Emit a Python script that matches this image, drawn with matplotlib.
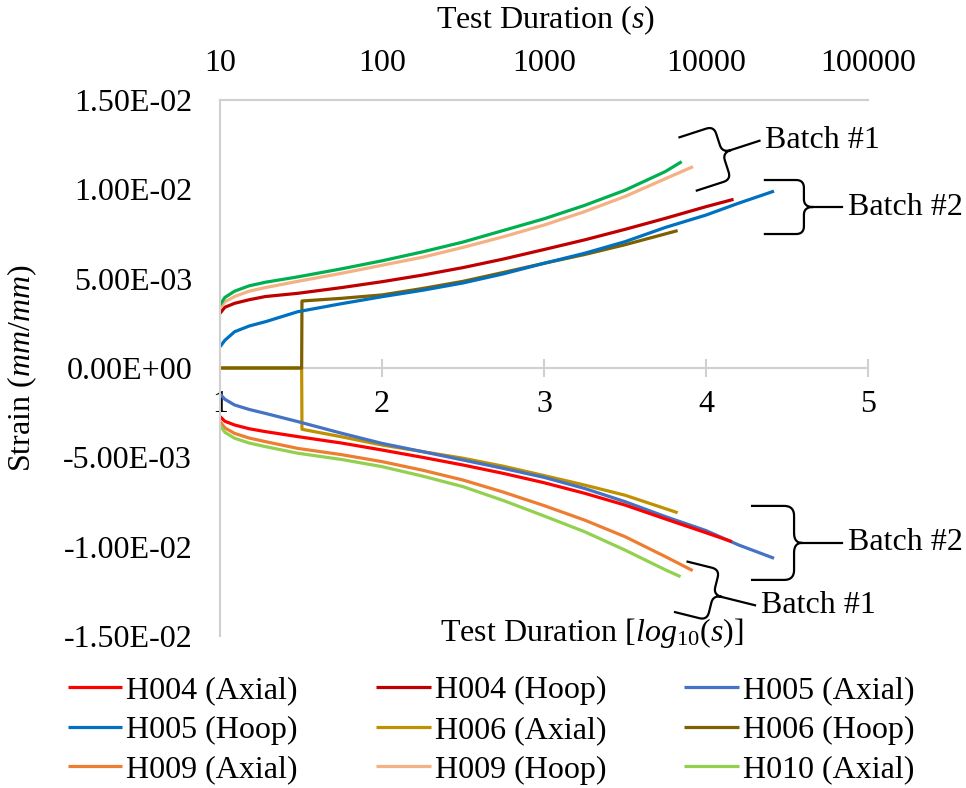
import numpy as np
import matplotlib
matplotlib.use("Agg")
import matplotlib.pyplot as plt

plt.rcParams['font.family'] = ['Liberation Serif', 'DejaVu Serif']
plt.rcParams['mathtext.fontset'] = 'custom'
plt.rcParams['mathtext.rm'] = 'Liberation Serif'
plt.rcParams['mathtext.it'] = 'Liberation Serif:italic'

# x = log10(test duration in s), y = strain in 1e-3 mm/mm
x_std = [1.0, 1.03, 1.09, 1.18, 1.28, 1.48, 1.75, 2.0, 2.25, 2.5, 2.75, 3.0, 3.25, 3.5, 3.75]

# hoop (positive)
h010_hoop_x = x_std + [3.85]
h010_hoop_y = [3.53, 3.95, 4.3, 4.6, 4.8, 5.1, 5.55, 6.0, 6.5, 7.05, 7.7, 8.35, 9.1, 9.95, 11.0, 11.55]
h009_hoop_x = x_std + [3.92]
h009_hoop_y = [3.35, 3.7, 4.0, 4.3, 4.5, 4.85, 5.3, 5.75, 6.2, 6.75, 7.35, 8.0, 8.75, 9.6, 10.6, 11.27]
h004_hoop_x = x_std + [4.0, 4.17]
h004_hoop_y = [3.06, 3.4, 3.62, 3.82, 4.0, 4.18, 4.5, 4.83, 5.2, 5.62, 6.1, 6.63, 7.17, 7.76, 8.38, 9.03, 9.44]
h005_hoop_x = x_std + [4.0, 4.2, 4.42]
h005_hoop_y = [1.19, 1.55, 2.03, 2.35, 2.59, 3.15, 3.6, 3.99, 4.35, 4.76, 5.27, 5.86, 6.42, 7.07, 7.87, 8.56, 9.22, 9.9]
h006_hoop_x = [1.0, 1.504, 1.506, 1.75, 2.0, 2.25, 2.5, 2.75, 3.0, 3.25, 3.5, 3.825]
h006_hoop_y = [0.0, 0.0, 3.75, 3.9, 4.09, 4.45, 4.85, 5.35, 5.86, 6.35, 6.9, 7.69]

# axial (negative)
h006_axial_x = [1.0, 1.504, 1.506, 1.75, 2.0, 2.25, 2.5, 2.75, 3.0, 3.25, 3.5, 3.825]
h006_axial_y = [0.0, 0.0, -3.43, -3.85, -4.31, -4.68, -5.05, -5.5, -6.02, -6.55, -7.12, -8.1]
h005_axial_x = x_std + [4.0, 4.2, 4.42]
h005_axial_y = [-1.46, -1.75, -2.07, -2.32, -2.54, -3.0, -3.65, -4.22, -4.68, -5.15, -5.62, -6.12, -6.74, -7.48, -8.32, -9.1, -9.9, -10.65]
h004_axial_x = x_std + [4.0, 4.16]
h004_axial_y = [-2.72, -2.98, -3.19, -3.4, -3.56, -3.84, -4.2, -4.59, -5.0, -5.43, -5.9, -6.42, -7.01, -7.67, -8.45, -9.22, -9.72]
h009_axial_x = x_std + [3.918]
h009_axial_y = [-3.0, -3.35, -3.66, -3.92, -4.12, -4.5, -4.85, -5.24, -5.72, -6.27, -6.95, -7.7, -8.51, -9.44, -10.56, -11.34]
h010_axial_x = x_std + [3.843]
h010_axial_y = [-3.19, -3.6, -3.93, -4.2, -4.4, -4.77, -5.12, -5.52, -6.05, -6.64, -7.42, -8.28, -9.16, -10.19, -11.3, -11.68]

x_ticks = [1, 2, 3, 4, 5]
top_tick_labels = ['10', '100', '1000', '10000', '100000']
y_ticks = [0.015, 0.01, 0.005, 0.0, -0.005, -0.01, -0.015]
y_tick_labels = ['1.50E-02', '1.00E-02', '5.00E-03', '0.00E+00', '-5.00E-03', '-1.00E-02', '-1.50E-02']

# (label, x, y, colour, in legend)
series = [
    ('H006 (Axial)', h006_axial_x, h006_axial_y, '#BF9000', True),
    ('H006 (Hoop)', h006_hoop_x, h006_hoop_y, '#7F6000', True),
    ('H005 (Hoop)', h005_hoop_x, h005_hoop_y, '#0070C0', True),
    ('H005 (Axial)', h005_axial_x, h005_axial_y, '#4472C4', True),
    ('H004 (Hoop)', h004_hoop_x, h004_hoop_y, '#C00000', True),
    ('H004 (Axial)', h004_axial_x, h004_axial_y, '#FF0000', True),
    ('H009 (Hoop)', h009_hoop_x, h009_hoop_y, '#F4B183', True),
    ('H009 (Axial)', h009_axial_x, h009_axial_y, '#ED7D31', True),
    ('H010 (Hoop)', h010_hoop_x, h010_hoop_y, '#00B050', False),
    ('H010 (Axial)', h010_axial_x, h010_axial_y, '#92D050', True),
]

FS = 23

fig = plt.figure(figsize=(9.66, 7.88), dpi=100)
ax = fig.add_axes([220/966, 1-636/788, 648/966, 536/788])

handles = {}
for name, xs, ys, col, leg in series:
    ln, = ax.plot(xs, np.array(ys)*1e-3, color=col, lw=2.3, solid_capstyle='butt',
                  solid_joinstyle='round')
    if leg:
        handles[name] = ln

ax.set_xlim(1, 5)
ax.set_ylim(-0.015, 0.015)
grey = '#D0D0D0'
ax.spines['right'].set_visible(False)
for s in ['top', 'left', 'bottom']:
    ax.spines[s].set_color(grey)
    ax.spines[s].set_linewidth(1.5)
ax.spines['bottom'].set_position(('data', 0))
ax.spines['bottom'].set_zorder(0.5)

ax.set_xticks(x_ticks)
ax.set_xticklabels([str(t) for t in x_ticks])
ax.tick_params(axis='x', direction='inout', length=13.5, width=1.5, color=grey,
               labelsize=FS, pad=9)
ax.set_yticks(y_ticks)
ax.set_yticklabels(y_tick_labels)
ax.tick_params(axis='y', length=0, labelsize=FS, pad=20)

sec = ax.secondary_xaxis('top')
sec.set_xticks(x_ticks)
sec.set_xticklabels(top_tick_labels)
sec.tick_params(length=0, labelsize=FS, pad=16)
sec.spines['top'].set_color(grey)
sec.spines['top'].set_linewidth(1.5)

fig.text(546/966, 1-20/788, r'Test Duration ($\mathit{s}$)', ha='center', va='center', fontsize=FS)
fig.text(22/966, 1-368/788, r'Strain ($\mathit{mm/mm}$)', ha='center', va='center',
         rotation=90, fontsize=FS)
fig.text(592/966, 1-633/788, r'Test Duration [$\mathit{log_{10}(s)}$]', ha='center',
         va='center', fontsize=FS)


def brace(tip, width, half, stem, rad, angle, conn, label):
    # curly brace opening left, tip pointing along angle (deg), sizes in pixels
    t = np.linspace(0, 1, 12)
    pts = [(-width, half), (-stem - rad, half)]
    p0, c, p1 = np.array([-stem - rad, half]), np.array([-stem, half]), np.array([-stem, half - rad])
    for tt in t:
        pts.append(tuple((1-tt)**2*p0 + 2*(1-tt)*tt*c + tt**2*p1))
    pts.append((-stem, rad))
    p0, c, p1 = np.array([-stem, rad]), np.array([-stem, 0]), np.array([0, 0])
    for tt in t:
        pts.append(tuple((1-tt)**2*p0 + 2*(1-tt)*tt*c + tt**2*p1))
    lower = [(u, -v) for u, v in pts[::-1]]
    pts = np.array(pts + lower)
    a = np.radians(angle)
    rot = np.array([[np.cos(a), -np.sin(a)], [np.sin(a), np.cos(a)]])
    base = ax.transData.transform(tip)
    disp = pts @ rot.T + base
    conn_pts = np.array([[0, 0], [conn, 0]]) @ rot.T + base
    inv = ax.transData.inverted()
    d = inv.transform(disp)
    cc = inv.transform(conn_pts)
    ax.plot(d[:, 0], d[:, 1], color='black', lw=1.6, clip_on=False)
    ax.plot(cc[:, 0], cc[:, 1], color='black', lw=1.6, clip_on=False)
    end = conn_pts[1]
    ax.text(*inv.transform(end + np.array([6, 0])), label, ha='left', va='center',
            fontsize=FS, clip_on=False)


brace((4.154, 0.01220), 45, 28, 9, 8, 18, 30, 'Batch #1')
brace((4.660, 0.00901), 48, 27, 9, 8, 0, 29, 'Batch #2')
brace((4.593, -0.00979), 50, 37, 8, 10, 0, 40, 'Batch #2')
brace((4.099, -0.01282), 42, 26, 9, 8, -14, 34, 'Batch #1')

order = ['H004 (Axial)', 'H005 (Hoop)', 'H009 (Axial)',
         'H004 (Hoop)', 'H006 (Axial)', 'H009 (Hoop)',
         'H005 (Axial)', 'H006 (Hoop)', 'H010 (Axial)']
fig.legend([handles[k] for k in order], order, loc='upper left', ncol=3,
           bbox_to_anchor=(68/966, 1-676/788), frameon=False, fontsize=FS,
           handlelength=1.7, handletextpad=0.13, columnspacing=2.45,
           labelspacing=0.32, borderpad=0, borderaxespad=0)

fig.savefig('out.png', dpi=100)
